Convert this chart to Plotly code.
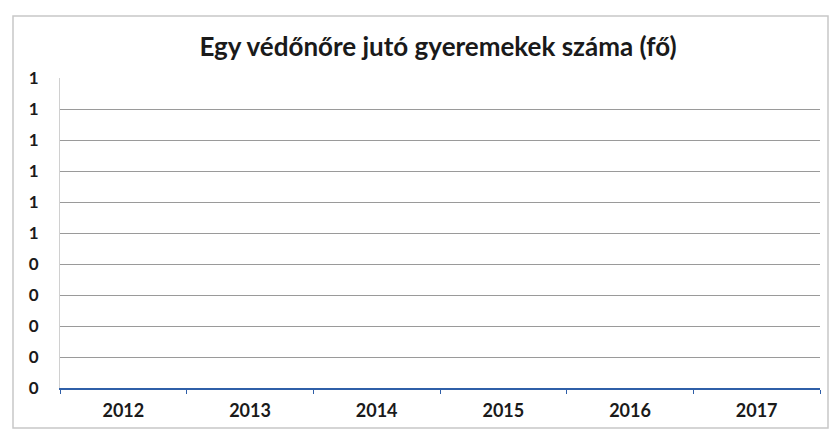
import plotly.graph_objects as go

years = ["2012", "2013", "2014", "2015", "2016", "2017"]
values = [None, None, None, None, None, None]  # no data plotted in the chart
y_ticks = [0, 0.1, 0.2, 0.3, 0.4, 0.5, 0.6, 0.7, 0.8, 0.9, 1.0]
y_tick_labels = ["0", "0", "0", "0", "0", "1", "1", "1", "1", "1", "1"]
title = "Egy védőnőre jutó gyeremekek száma (fő)"

W, H = 838, 434
L, R, T, B = 60, 18, 78, 46
pw, ph = W - L - R, H - T - B

fig = go.Figure()
fig.add_trace(go.Scatter(x=years, y=values, mode="lines",
                         line=dict(color="#4472c4", width=2),
                         showlegend=False, hoverinfo="skip"))

fig.update_layout(
    width=W, height=H,
    margin=dict(l=L, r=R, t=T, b=B),
    paper_bgcolor="white", plot_bgcolor="white",
    title=dict(text=title, x=(438 - L) / pw, xref="paper",
               xanchor="center", y=1 - 47 / H, yanchor="middle",
               font=dict(family="Lato", size=26, color="#1a1a1a", weight="bold")),
    font=dict(family="Lato", color="#1a1a1a"),
)
fig.update_xaxes(
    type="category", categoryorder="array", categoryarray=years,
    range=[-0.5, len(years) - 0.5],
    showline=True, linecolor="#2f5fa8", linewidth=1.5,
    ticks="outside", tickson="boundaries", ticklen=4, tickcolor="#2f5fa8",
    showgrid=False, zeroline=False,
    tickfont=dict(family="Lato", size=18, color="#1a1a1a", weight="bold"),
    ticklabelstandoff=6,
)
fig.update_yaxes(
    range=[0, 1], tickvals=y_ticks, ticktext=y_tick_labels,
    showgrid=True, gridcolor="#9a9a9a", gridwidth=1,
    showline=True, linecolor="#d0d0d0", linewidth=1,
    zeroline=False, ticks="",
    tickfont=dict(family="Lato", size=17, color="#1a1a1a", weight="bold"),
    ticklabelstandoff=17,
)

# chart frame
fig.add_shape(type="rect", xref="paper", yref="paper",
              x0=(13 - L) / pw, x1=(828 - L) / pw,
              y0=(T + ph - 428) / ph, y1=(T + ph - 16) / ph,
              line=dict(color="#c8c8c8", width=1.5), fillcolor="rgba(0,0,0,0)",
              layer="below")

fig.write_html("out.html", config={"displayModeBar": False},
               post_script="document.body.style.margin='0';")
